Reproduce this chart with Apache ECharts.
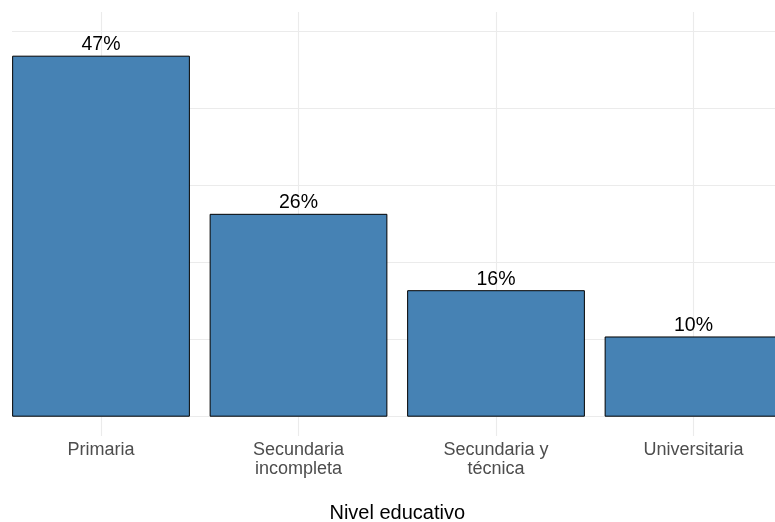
<!DOCTYPE html>
<html>
<head>
<meta charset="utf-8">
<script src="https://cdn.jsdelivr.net/npm/echarts@6/dist/echarts.min.js"></script>
<style>
html,body{margin:0;padding:0;background:#fff;}
#chart{width:775px;height:522px;}
</style>
</head>
<body>
<div id="chart"></div>
<script>
const categories = ['Primaria', 'Secundaria\nincompleta', 'Secundaria y\ntécnica', 'Universitaria'];
const values = [46.8, 26.3, 16.4, 10.4];
const yTicks = [0, 10, 20, 30, 40, 50];
const xTitle = 'Nivel educativo';

const FONT = '"Liberation Sans", Arial, Helvetica, sans-serif';
const chart = echarts.init(document.getElementById('chart'), null, {renderer: 'canvas'});
const zeroY = 416.7;
const band = 197.5;
chart.setOption({
  backgroundColor: '#ffffff',
  animation: false,
  grid: [
    {left: 2.25, width: band * 4, top: 31, height: zeroY - 31, containLabel: false, outerBoundsMode: 'none'},
    {left: 12, width: 763, top: 31, height: zeroY - 31, containLabel: false, outerBoundsMode: 'none'},
    {left: 2.25 + band / 2, width: band * 3, top: 12, height: 424, containLabel: false, outerBoundsMode: 'none'}
  ],
  xAxis: [
    {
      type: 'category', gridIndex: 0, data: categories, boundaryGap: true,
      axisLine: {show: false}, axisTick: {show: false}, splitLine: {show: false},
      axisLabel: {color: '#4d4d4d', fontFamily: FONT, fontSize: 18, lineHeight: 19, margin: 24, interval: 0},
      name: xTitle, nameLocation: 'middle', nameGap: 86,
      nameTextStyle: {color: '#000000', fontFamily: FONT, fontSize: 20, lineHeight: 21}
    },
    {type: 'value', gridIndex: 1, min: 0, max: 1, show: false},
    {
      type: 'value', gridIndex: 2, min: 0, max: 3, interval: 1,
      axisLine: {show: false}, axisTick: {show: false}, axisLabel: {show: false},
      splitLine: {show: true, lineStyle: {color: '#ebebeb', width: 1.1}}
    }
  ],
  yAxis: [
    {type: 'value', gridIndex: 0, min: 0, max: 50, show: false, splitLine: {show: false}},
    {
      type: 'value', gridIndex: 1, min: yTicks[0], max: yTicks[yTicks.length - 1], interval: 10,
      axisLine: {show: false}, axisTick: {show: false}, axisLabel: {show: false},
      splitLine: {show: true, lineStyle: {color: '#ebebeb', width: 1.1}}
    },
    {type: 'value', gridIndex: 2, min: 0, max: 1, show: false, splitLine: {show: false}}
  ],
  series: [{
    type: 'bar',
    xAxisIndex: 0, yAxisIndex: 0,
    data: values,
    barWidth: '90%',
    z: 5,
    itemStyle: {color: '#4682B4', borderColor: '#000000', borderWidth: 1},
    label: {
      show: true, position: 'top', distance: 1,
      color: '#000000', fontFamily: FONT, fontSize: 19.5,
      formatter: p => Math.round(p.value) + '%'
    }
  }]
});
</script>
</body>
</html>
